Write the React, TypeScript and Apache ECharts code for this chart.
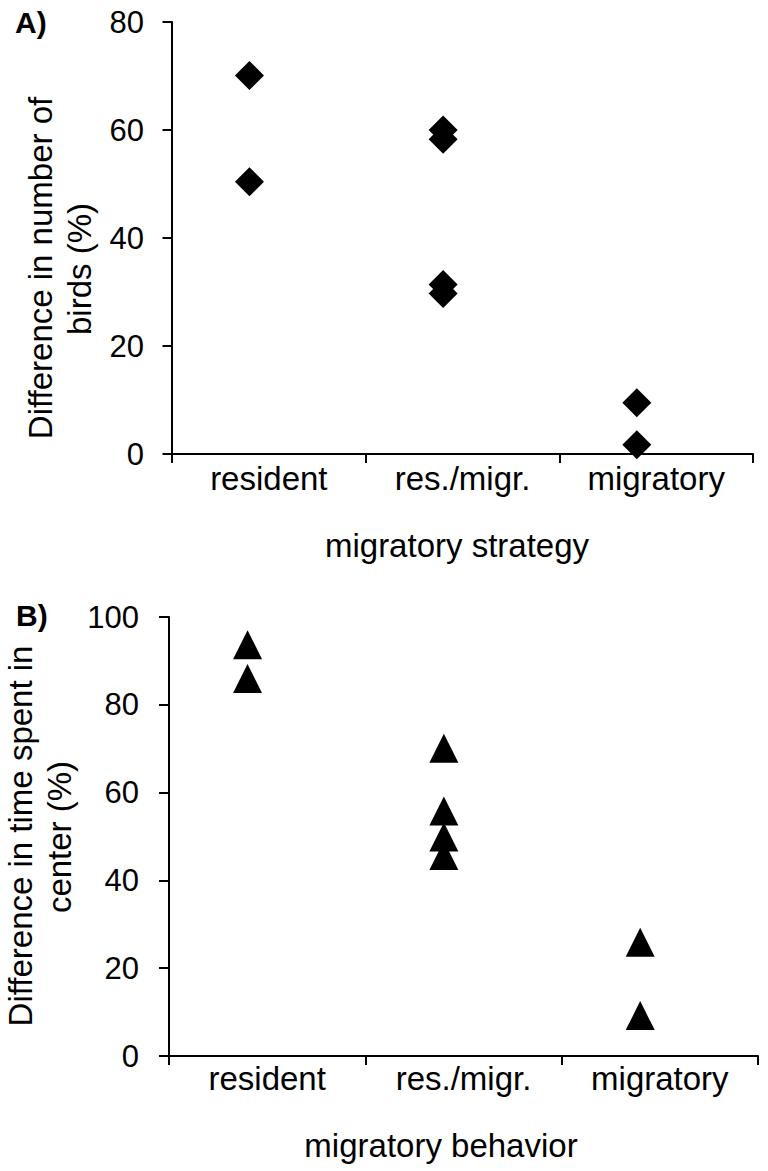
import React, { useEffect, useRef } from "react";
import * as echarts from "echarts";

const categories = ["resident", "res./migr.", "migratory"];

// Panel A: difference in number of birds (%)
const birdsResident = [70.1, 50.4];
const birdsResMigr = [60.0, 58.3, 31.4, 29.7];
const birdsMigratory = [9.5, 1.7];

// Panel B: difference in time spent in center (%)
const timeResident = [93.7, 86.0];
const timeResMigr = [70.1, 55.8, 49.9, 45.7];
const timeMigratory = [25.9, 9.2];

const FONT = "Liberation Sans, Arial, Helvetica, sans-serif";

function toPoints(groups: number[][]): number[][] {
  const out: number[][] = [];
  groups.forEach((vals, i) => {
    vals.forEach((v) => out.push([i + 1, v]));
  });
  return out;
}

export default function App() {
  const ref = useRef<HTMLDivElement>(null);

  useEffect(() => {
    if (!ref.current) return;
    const chart = echarts.init(ref.current, null, { renderer: "svg" });

    const axisLine = { show: true, lineStyle: { color: "#000", width: 2 } };
    const tickStyle = { color: "#000", width: 2 };

    const catAxis = (gridIndex: number, margin: number) => ({
      type: "category",
      gridIndex,
      data: categories,
      boundaryGap: true,
      axisLine,
      axisTick: { show: true, inside: false, length: 9, alignWithLabel: false, interval: 0, lineStyle: tickStyle },
      axisLabel: { show: true, interval: 0, margin, color: "#000", fontFamily: FONT, fontSize: 33 },
      splitLine: { show: false },
    });

    const hiddenX = (gridIndex: number) => ({
      type: "value",
      gridIndex,
      min: 0.6,
      max: 3.6,
      show: false,
      splitLine: { show: false },
    });

    const valAxis = (gridIndex: number, max: number, tickLen: number, margin: number) => ({
      type: "value",
      gridIndex,
      min: 0,
      max,
      interval: 20,
      axisLine,
      axisTick: { show: true, inside: false, length: tickLen, lineStyle: tickStyle },
      axisLabel: { show: true, margin, color: "#000", fontFamily: FONT, fontSize: 31 },
      splitLine: { show: false },
    });

    const titleStyle = {
      fill: "#000",
      fontSize: 33,
      fontFamily: FONT,
      align: "center",
      verticalAlign: "middle",
    };
    const panelStyle = { fill: "#000", fontSize: 30, fontWeight: "bold", fontFamily: FONT, align: "left", verticalAlign: "middle" };

    const option: any = {
      animation: false,
      backgroundColor: "#fff",
      grid: [
        { left: 172, top: 22, width: 581, height: 432, containLabel: false },
        { left: 169, top: 617, width: 589, height: 439, containLabel: false },
      ],
      xAxis: [catAxis(0, 8), hiddenX(0), catAxis(1, 6), hiddenX(1)],
      yAxis: [valAxis(0, 80, 9.5, 28), valAxis(1, 100, 10, 30)],
      series: [
        {
          type: "scatter",
          xAxisIndex: 1,
          yAxisIndex: 0,
          symbol: "diamond",
          symbolSize: [29, 29],
          itemStyle: { color: "#000", opacity: 1 },
          data: toPoints([birdsResident, birdsResMigr, birdsMigratory]),
        },
        {
          type: "scatter",
          xAxisIndex: 3,
          yAxisIndex: 1,
          symbol: "triangle",
          symbolSize: [29, 29],
          itemStyle: { color: "#000", opacity: 1 },
          data: toPoints([timeResident, timeResMigr, timeMigratory]),
        },
      ],
      graphic: [
        { type: "text", x: 15, y: 22, style: { ...panelStyle, text: "A)" } },
        { type: "text", x: 16, y: 615, style: { ...panelStyle, text: "B)" } },
        { type: "text", x: 40, y: 268, rotation: Math.PI / 2, style: { ...titleStyle, text: "Difference in number of" } },
        { type: "text", x: 79, y: 269, rotation: Math.PI / 2, style: { ...titleStyle, text: "birds (%)" } },
        { type: "text", x: 20, y: 836, rotation: Math.PI / 2, style: { ...titleStyle, text: "Difference in time spent in" } },
        { type: "text", x: 59, y: 837, rotation: Math.PI / 2, style: { ...titleStyle, text: "center (%)" } },
        { type: "text", x: 457, y: 545, style: { ...titleStyle, text: "migratory strategy" } },
        { type: "text", x: 441, y: 1145, style: { ...titleStyle, text: "migratory behavior" } },
      ],
    };

    chart.setOption(option);
    return () => chart.dispose();
  }, []);

  return (
    <div
      ref={ref}
      style={{ position: "absolute", left: 0, top: 0, width: 768, height: 1171, background: "#fff" }}
    />
  );
}
